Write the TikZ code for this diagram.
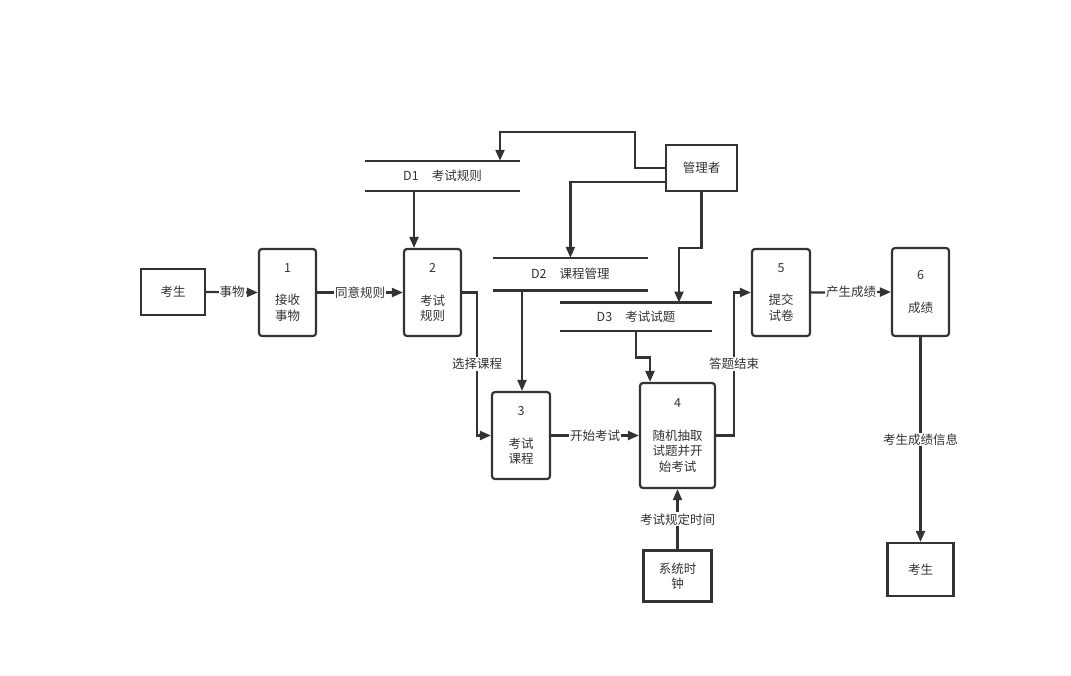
\documentclass[tikz,border=0pt]{standalone}
\usepackage{fontspec}
\setmainfont{Noto Sans CJK SC}
\usetikzlibrary{arrows.meta}
\definecolor{ink}{HTML}{333333}
\begin{document}
\begin{tikzpicture}[x=1pt,y=-1pt,
  font=\fontsize{12.5}{15.5}\selectfont, text=ink,
  proc/.style={draw=ink, line width=2.2pt, rounded corners=3pt, align=center, inner sep=0pt},
  ext/.style={draw=ink, line width=2.2pt, align=center, inner sep=0pt},
  flow/.style={draw=ink, line width=2.2pt, -{Triangle[length=11pt,width=9pt]}},
  lbl/.style={fill=white, inner sep=1pt, text=ink},
  storebox/.style={inner sep=0pt},
  storeline/.style={draw=ink, line width=2.2pt}]
\useasboundingbox (0,0) rectangle (1071,675);

% external entities
\node[ext, minimum width=64, minimum height=46] (k1) at (173,292) {考生};
\node[ext, minimum width=66, minimum height=53] (k2) at (920.5,569.5) {考生};
\node[ext, minimum width=71, minimum height=46] (mgr) at (701.5,168) {管理者};
\node[ext, minimum width=68, minimum height=51] (clk) at (677.5,576) {系统时\\钟};

% processes
\node[proc, minimum width=57, minimum height=87] (p1) at (287.5,292.5) {1\\[17pt]接收\\事物};
\node[proc, minimum width=57, minimum height=87] (p2) at (432.5,292.5) {2\\[17pt]考试\\规则};
\node[proc, minimum width=58, minimum height=87] (p3) at (521,435.5) {3\\[17pt]考试\\课程};
\node[proc, minimum width=75, minimum height=105] (p4) at (677.5,435.5) {4\\[17pt]随机抽取\\试题并开\\始考试};
\node[proc, minimum width=58, minimum height=87] (p5) at (781,292.5) {5\\[17pt]提交\\试卷};
\node[proc, minimum width=57, minimum height=88] (p6) at (920.5,292) {6\\[18pt]成绩};

% data stores
\node[storebox, minimum width=155, minimum height=30] (d1) at (442.5,176) {D1\hspace{13pt}考试规则};
\draw[storeline] (d1.north west) -- (d1.north east);
\draw[storeline] (d1.south west) -- (d1.south east);
\node[storebox, minimum width=155, minimum height=32.5] (d2) at (570.4,274.2) {D2\hspace{13pt}课程管理};
\draw[storeline] (d2.north west) -- (d2.north east);
\draw[storeline, line width=3pt] (d2.south west) -- (d2.south east);
\node[storebox, minimum width=152, minimum height=28] (d3) at (636,316.7) {D3\hspace{13pt}考试试题};
\draw[storeline] (d3.north west) -- (d3.north east);
\draw[storeline] (d3.south west) -- (d3.south east);

% flows from manager
\draw[flow] (mgr.west) -- ++(-30,0) -- ++(0,-36) -| ([xshift=57.5pt]d1.north);
\draw[flow] ([yshift=-14pt]mgr.west) -| (d2.north);
\draw[flow] (mgr.south) -- ++(0,56) -| ([xshift=43pt]d3.north);

% stores to processes
\draw[flow] ([xshift=-28.5pt]d1.south) -- ([xshift=-28.5pt]d1.south |- p2.north);
\draw[flow] ([xshift=-48.4pt]d2.south) -- ([xshift=-48.4pt]d2.south |- p3.north);
\draw[flow] (d3.south) -- ++(0,26.5) -| ([xshift=-27.5pt]p4.north);

% main flows
\draw[flow] (k1.east) -- node[lbl]{事物} (p1.west);
\draw[flow] (p1.east) -- node[lbl]{同意规则} (p2.west);
\draw[flow] (p2.east) -- ++(15,0) |- node[lbl, pos=0.25]{选择课程} (p3.west);
\draw[flow] (p3.east) -- node[lbl]{开始考试} (p4.west);
\draw[flow] (p4.east) -- ++(18,0) |- node[lbl, pos=0.25]{答题结束} (p5.west);
\draw[flow] (p5.east) -- node[lbl]{产生成绩} (p6.west);
\draw[flow] (p6.south) -- node[lbl]{考生成绩信息} (k2.north);
\draw[flow] (clk.north) -- node[lbl]{考试规定时间} (p4.south);
\end{tikzpicture}
\end{document}
